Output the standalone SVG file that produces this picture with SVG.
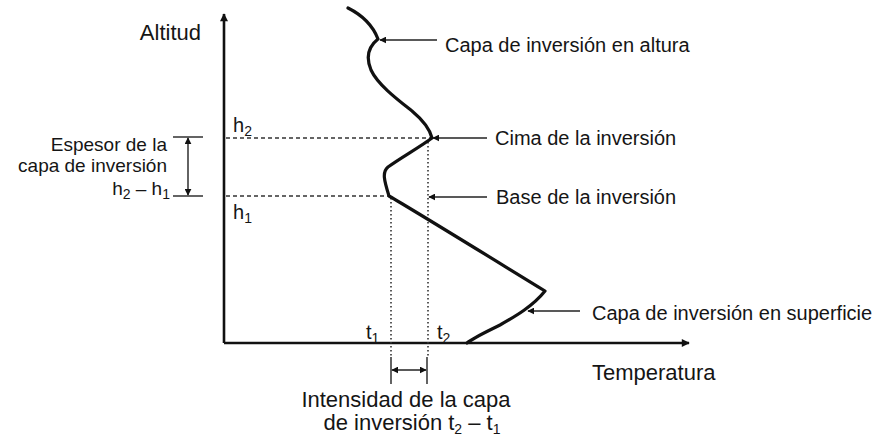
<svg xmlns="http://www.w3.org/2000/svg" width="886" height="442" viewBox="0 0 886 442">
<style>
  text { font-family: "Liberation Sans", Arial, sans-serif; font-size: 20px; fill: #151515; }
  .big { font-size: 22px; }
  .sm { font-size: 19px; }
  .sub { font-size: 14px; }
  .axis { stroke: #111; stroke-width: 2.6; fill: none; }
  .curve { stroke: #111; stroke-width: 3.2; fill: none; stroke-linejoin: round; stroke-linecap: round; }
  .lead { stroke: #222; stroke-width: 1.5; fill: none; }
  .dash { stroke: #333; stroke-width: 1.3; stroke-dasharray: 4 3; fill: none; }
  .dot { stroke: #333; stroke-width: 1.6; stroke-dasharray: 1.6 2.4; fill: none; }
  .brk { stroke: #222; stroke-width: 1.4; fill: none; }
</style>
<defs>
  <marker id="ah" viewBox="0 0 10 10" refX="9" refY="5" markerWidth="7" markerHeight="7" markerUnits="userSpaceOnUse" orient="auto-start-reverse">
    <path d="M0,0 L10,5 L0,10 z" fill="#111"/>
  </marker>
  <marker id="axh" viewBox="0 0 10 10" refX="9" refY="5" markerWidth="10" markerHeight="8" markerUnits="userSpaceOnUse" orient="auto">
    <path d="M0,0 L10,5 L0,10 z" fill="#111"/>
  </marker>
</defs>

<g id="axes">
  <line class="axis" x1="224" y1="343" x2="224" y2="14" marker-end="url(#axh)"/>
  <line class="axis" x1="224" y1="343" x2="689" y2="343" marker-end="url(#axh)"/>
  <text id="altitud" x="201" y="40" text-anchor="end" class="big">Altitud</text>
  <text id="temperatura" x="592" y="380" class="big">Temperatura</text>
</g>

<g id="guides">
  <line class="dash" x1="226" y1="138" x2="432" y2="138"/>
  <line class="dash" x1="226" y1="196" x2="389" y2="196"/>
  <line class="dot" x1="391" y1="198" x2="391" y2="358"/>
  <line class="dot" x1="428" y1="142" x2="428" y2="358"/>
  <text x="233" y="132">h<tspan class="sub" dy="4">2</tspan></text>
  <text x="233" y="219">h<tspan class="sub" dy="4">1</tspan></text>
  <text x="366" y="339">t<tspan class="sub" dy="4">1</tspan></text>
  <text x="437" y="339">t<tspan class="sub" dy="4">2</tspan></text>
</g>

<g id="profile">
  <path class="curve" d="M348,8 C362,15 373,26 378,39 C368,47 366,58 371,70 C378,85 398,100 412,111 C424,121 430,130 432,138 C420,147 402,157 388,167 C382,172 384,180 389,196 C410,208 470,245 545,291 C533,306 516,316 500,325 C486,332 473,338 467,343"/>
</g>

<g id="connectors">
  <line class="lead" x1="437" y1="40" x2="380" y2="40" marker-end="url(#ah)"/>
  <line class="lead" x1="487" y1="138" x2="433" y2="138" marker-end="url(#ah)"/>
  <line class="lead" x1="487" y1="197" x2="429" y2="197" marker-end="url(#ah)"/>
  <line class="lead" x1="580" y1="311" x2="528" y2="311" marker-end="url(#ah)"/>
  <line class="brk" x1="173" y1="137" x2="203" y2="137"/>
  <line class="brk" x1="173" y1="196" x2="203" y2="196"/>
  <line class="brk" x1="188" y1="138" x2="188" y2="195" marker-start="url(#ah)" marker-end="url(#ah)"/>
  <line class="brk" x1="391" y1="357" x2="391" y2="384"/>
  <line class="brk" x1="427" y1="357" x2="427" y2="384"/>
  <line class="brk" x1="392" y1="370" x2="426" y2="370" marker-start="url(#ah)" marker-end="url(#ah)"/>
</g>

<g id="label-altura"><text x="445" y="52">Capa de inversión en altura</text></g>
<g id="label-cima"><text x="495" y="145">Cima de la inversión</text></g>
<g id="label-base"><text x="496" y="204">Base de la inversión</text></g>
<g id="label-superficie"><text x="592" y="320">Capa de inversión en superficie</text></g>

<g id="label-espesor">
  <text x="167" y="151" text-anchor="end" class="sm">Espesor de la</text>
  <text x="167" y="172" text-anchor="end" class="sm">capa de inversión</text>
  <text x="170" y="195" text-anchor="end" class="sm">h<tspan class="sub" dy="4">2</tspan><tspan dy="-4"> – h</tspan><tspan class="sub" dy="4">1</tspan></text>
</g>

<g id="label-intensidad">
  <text x="406" y="407" text-anchor="middle" class="big">Intensidad de la capa</text>
  <text x="412" y="430" text-anchor="middle" class="big">de inversión t<tspan class="sub" dy="4">2</tspan><tspan dy="-4"> – t</tspan><tspan class="sub" dy="4">1</tspan></text>
</g>
</svg>
